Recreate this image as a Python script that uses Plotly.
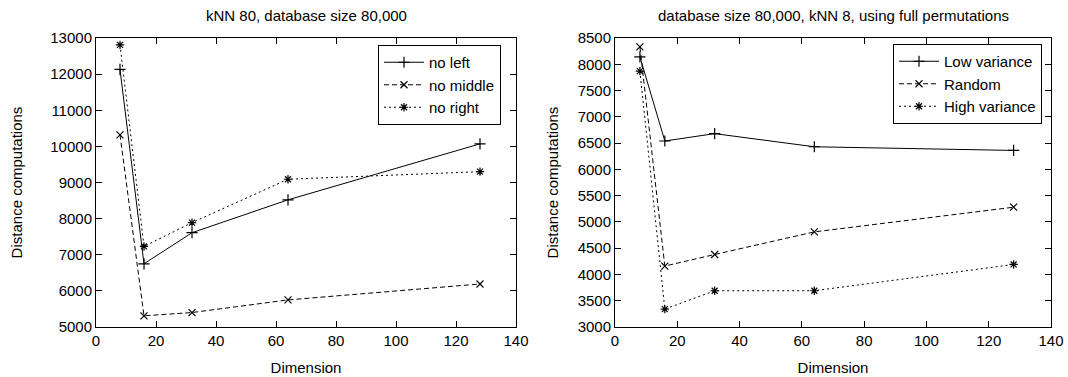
import plotly.graph_objects as go

# ---- data ----
dims = [8, 16, 32, 64, 128]

left_title = "kNN 80, database size 80,000"
no_left = [12130, 6750, 7610, 8520, 10070]
no_middle = [10320, 5310, 5400, 5750, 6190]
no_right = [12810, 7230, 7890, 9090, 9300]

right_title = "database size 80,000, kNN 8, using full permutations"
low_var = [8140, 6540, 6680, 6430, 6360]
random_perm = [8330, 4160, 4380, 4810, 5280]
high_var = [7870, 3340, 3690, 3690, 4190]

x_ticks = [0, 20, 40, 60, 80, 100, 120, 140]
left_y_ticks = list(range(5000, 13001, 1000))
right_y_ticks = list(range(3000, 8501, 500))

FONT = "Liberation Sans, Arial, Helvetica, sans-serif"
W, H = 1068, 377

fig = go.Figure()

styles = [
    dict(dash="solid", symbol="cross-thin-open", size=8),
    dict(dash="5px,3px", symbol="x-thin-open", size=7),
    dict(dash="2px,3px", symbol="asterisk-open", size=7),
]


def add_series(name, ys, st, xa, ya, legend):
    fig.add_trace(go.Scatter(
        x=dims, y=ys, name=name, mode="lines+markers",
        xaxis=xa, yaxis=ya, legend=legend,
        line=dict(color="black", width=1, dash=st["dash"]),
        marker=dict(symbol=st["symbol"], size=st["size"], color="black",
                    line=dict(color="black", width=1.2)),
    ))


for name, ys, st in zip(["no left", "no middle", "no right"],
                        [no_left, no_middle, no_right], styles):
    add_series(name, ys, st, "x", "y", "legend")

for name, ys, st in zip(["Low variance", "Random", "High variance"],
                        [low_var, random_perm, high_var], styles):
    add_series(name, ys, st, "x2", "y2", "legend2")

axis_common = dict(
    showline=True, linecolor="black", linewidth=1, mirror="ticks",
    ticks="inside", ticklen=6, tickcolor="black", tickwidth=1,
    showgrid=False, zeroline=False, tickformat="d",
    tickfont=dict(family=FONT, size=15, color="black"),
    title_font=dict(family=FONT, size=15, color="black"),
)

ydom = [1 - 327 / H, 1 - 38 / H]

fig.update_layout(
    width=W, height=H,
    margin=dict(l=0, r=0, t=0, b=0, autoexpand=False),
    paper_bgcolor="white", plot_bgcolor="white",
    font=dict(family=FONT, size=15, color="black"),
    xaxis=dict(domain=[96 / W, 516 / W], range=[0, 140], tickvals=x_ticks,
               title=dict(text="Dimension", standoff=14), anchor="y", **axis_common),
    yaxis=dict(domain=ydom, range=[5000, 13000], tickvals=left_y_ticks,
               title=dict(text="Distance computations", standoff=24), anchor="x",
               **axis_common),
    xaxis2=dict(domain=[615 / W, 1051 / W], range=[0, 140], tickvals=x_ticks,
                title=dict(text="Dimension", standoff=14), anchor="y2", **axis_common),
    yaxis2=dict(domain=ydom, range=[3000, 8500], tickvals=right_y_ticks,
                title=dict(text="Distance computations", standoff=15), anchor="x2",
                **axis_common),
    legend=dict(x=501 / W, y=1 - 45 / H, xanchor="right", yanchor="top",
                bordercolor="black", borderwidth=1, bgcolor="white",
                font=dict(family=FONT, size=15, color="black"),
                tracegroupgap=0, itemwidth=40),
    legend2=dict(x=1042 / W, y=1 - 44 / H, xanchor="right", yanchor="top",
                 bordercolor="black", borderwidth=1, bgcolor="white",
                 font=dict(family=FONT, size=15, color="black"),
                 tracegroupgap=0, itemwidth=40),
    annotations=[
        dict(text=left_title, x=306 / W, y=1 - 16 / H, xref="paper", yref="paper",
             showarrow=False, xanchor="center", yanchor="middle",
             font=dict(family=FONT, size=15, color="black")),
        dict(text=right_title, x=833 / W, y=1 - 16 / H, xref="paper", yref="paper",
             showarrow=False, xanchor="center", yanchor="middle",
             font=dict(family=FONT, size=15, color="black")),
    ],
)

fig.write_html(
    "out.html",
    config={"displayModeBar": False},
    post_script="document.body.style.margin='0';document.body.style.overflow='hidden';",
)
